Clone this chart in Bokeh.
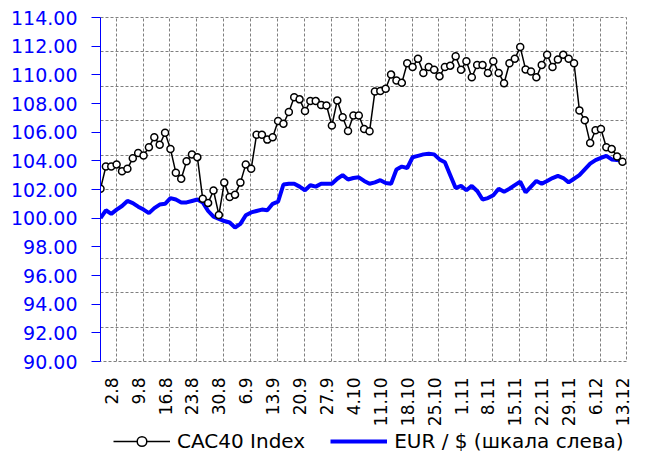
import math
from bokeh.plotting import figure
from bokeh.layouts import column
from bokeh.models import (Range1d, FixedTicker, Grid, Legend, LegendItem,
                          NumeralTickFormatter, SingleIntervalTicker)
from bokeh.embed import file_html
from bokeh.resources import INLINE

# Week labels on the category axis (every 5th trading day)
tick_labels = ["2.8", "9.8", "16.8", "23.8", "30.8", "6.9", "13.9", "20.9", "27.9",
               "4.10", "11.10", "18.10", "25.10", "1.11", "8.11", "15.11", "22.11",
               "29.11", "6.12", "13.12"]

# EUR / $ (left scale, index)
eur = [100.0, 100.55, 100.3, 100.6, 100.85, 101.2, 101.05, 100.8, 100.6, 100.35,
       100.7, 100.95, 101.0, 101.4, 101.3, 101.1, 101.1, 101.2, 101.3, 101.1,
       100.5, 100.1, 99.95, 99.8, 99.7, 99.35, 99.6, 100.2, 100.4, 100.5,
       100.6, 100.55, 101.0, 101.15, 102.35, 102.4, 102.4, 102.2, 101.95, 102.3,
       102.2, 102.4, 102.4, 102.4, 102.75, 103.0, 102.7, 102.8, 102.85, 102.6,
       102.4, 102.5, 102.65, 102.45, 102.4, 103.4, 103.6, 103.5, 104.25, 104.35,
       104.45, 104.5, 104.45, 104.1, 103.9, 103.0, 102.1, 102.25, 101.95, 102.25,
       101.9, 101.3, 101.4, 101.6, 102.05, 101.85, 102.05, 102.3, 102.55, 101.8,
       102.2, 102.6, 102.4, 102.6, 102.8, 102.95, 102.8, 102.5, 102.75, 103.0,
       103.4, 103.8, 104.05, 104.2, 104.35, 104.1, 104.05, 104.0]

# CAC40 Index (right scale)
cac = [3502, 3567, 3567, 3573, 3553, 3560, 3591, 3606, 3599, 3623,
       3652, 3630, 3665, 3618, 3549, 3531, 3582, 3602, 3594, 3473,
       3461, 3497, 3426, 3520, 3478, 3485, 3520, 3573, 3560, 3659,
       3659, 3645, 3652, 3699, 3691, 3725, 3768, 3762, 3728, 3757,
       3757, 3746, 3744, 3686, 3759, 3710, 3670, 3715, 3715, 3676,
       3669, 3785, 3786, 3793, 3834, 3817, 3810, 3867, 3856, 3880,
       3839, 3856, 3848, 3829, 3856, 3860, 3887, 3848, 3873, 3826,
       3862, 3862, 3839, 3873, 3839, 3809, 3867, 3880, 3914, 3849,
       3843, 3826, 3862, 3892, 3856, 3878, 3892, 3880, 3867, 3730,
       3701, 3635, 3672, 3676, 3623, 3618, 3596, 3581]

x = list(range(len(eur)))
tick_idx = [2 + 5 * k for k in range(len(tick_labels))]

FONT = "DejaVu Sans"
BLUE = "#0000FF"
GRID = "#808080"

p = figure(width=640, height=429, output_backend="svg", toolbar_location=None,
           x_range=Range1d(0, 97.75), y_range=Range1d(90, 114),
           min_border_left=100, min_border_right=14, min_border_top=17,
           min_border_bottom=68)
p.extra_y_ranges = {"cac": Range1d(3000, 4000)}

p.background_fill_color = "white"
p.border_fill_color = "white"
p.outline_line_color = GRID
p.outline_line_dash = "3 2"
p.outline_line_width = 1

# grids
p.ygrid.visible = False
p.xgrid.ticker = FixedTicker(ticks=[t + 0.9 for t in tick_idx])
p.xgrid.grid_line_color = GRID
p.xgrid.grid_line_dash = "3 2"
p.xgrid.grid_line_width = 1
p.add_layout(Grid(dimension=1, y_range_name="cac",
                  ticker=SingleIntervalTicker(interval=100),
                  grid_line_color=GRID, grid_line_dash="3 2", grid_line_width=1))

# left axis
ya = p.yaxis[0]
ya.ticker = SingleIntervalTicker(interval=2)
ya.formatter = NumeralTickFormatter(format="0.00")
ya.axis_line_color = BLUE
ya.major_tick_line_color = BLUE
ya.major_tick_out = 9
ya.major_tick_in = 0
ya.minor_tick_line_color = None
ya.major_label_text_color = BLUE
ya.major_label_text_font = FONT
ya.major_label_text_font_size = "19px"
ya.major_label_standoff = 14

# bottom axis
xa = p.xaxis[0]
xa.ticker = FixedTicker(ticks=tick_idx)
xa.major_label_overrides = {t: lab for t, lab in zip(tick_idx, tick_labels)}
xa.major_label_orientation = math.pi / 2
xa.axis_line_color = None
xa.major_tick_line_color = None
xa.minor_tick_line_color = None
xa.major_label_text_color = "black"
xa.major_label_text_font = FONT
xa.major_label_text_font_size = "17px"
xa.major_label_standoff = 10

p.line(x, eur, line_color=BLUE, line_width=4)
p.line(x, cac, y_range_name="cac", line_color="black", line_width=1.5)
p.scatter(x, cac, y_range_name="cac", size=7, marker="circle",
          fill_color="white", line_color="black", line_width=1.5)

# legend strip below the chart (its proxy glyphs lie outside its visible ranges)
lg = figure(width=640, height=31, output_backend="svg", toolbar_location=None,
            x_axis_location=None, y_axis_location=None,
            x_range=Range1d(0, 1), y_range=Range1d(0, 1), min_border=0)
lg.outline_line_color = None
lg.xgrid.visible = False
lg.ygrid.visible = False
k_line = lg.line(x, cac, line_color="black", line_width=1.5)
k_pts = lg.scatter(x, cac, size=7, marker="circle", fill_color="white",
                   line_color="black", line_width=1.5)
b_line = lg.line(x, eur, line_color=BLUE, line_width=4)

legend = Legend(items=[LegendItem(label="CAC40 Index", renderers=[k_line, k_pts]),
                       LegendItem(label="EUR / $ (шкала слева)", renderers=[b_line])],
                orientation="horizontal", location=(13, 7),
                glyph_width=57, glyph_height=24, label_standoff=7, spacing=25,
                padding=0, margin=0, border_line_color=None,
                background_fill_alpha=0,
                label_text_font=FONT, label_text_font_size="20px",
                label_text_color="black")
lg.add_layout(legend, "center")

layout = column(p, lg, spacing=0)
open("out.html", "w").write(file_html(layout, INLINE))
